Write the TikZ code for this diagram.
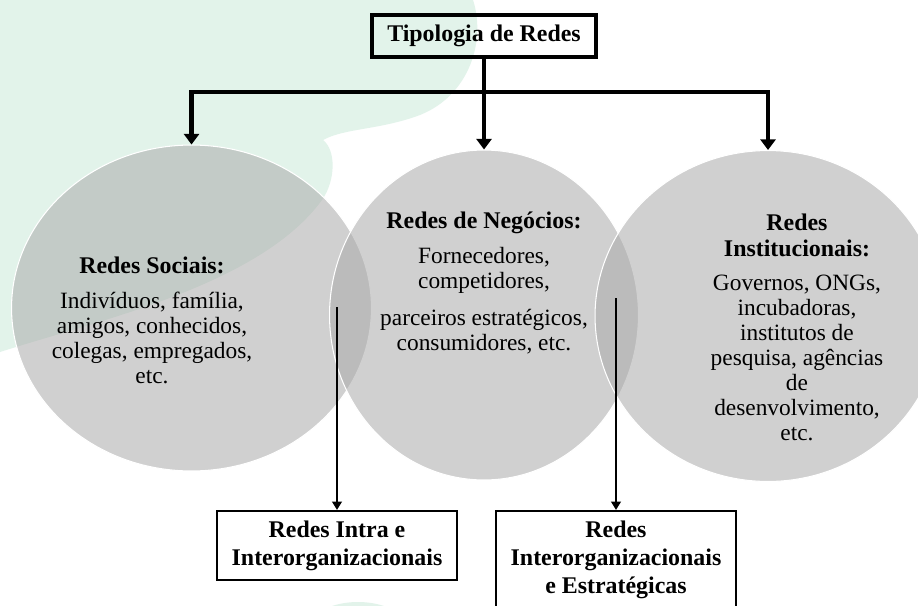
\documentclass[tikz,border=0pt]{standalone}
\usepackage{fontspec}
\setmainfont{Liberation Serif}
\usetikzlibrary{shapes.geometric,arrows.meta}
\definecolor{mint}{RGB}{226,243,234}

\begin{document}
\begin{tikzpicture}[x=0.02cm,y=0.02cm]
\tikzstyle{circ}=[ellipse,draw=white,line width=0.6pt,fill=black!33,fill opacity=0.55,inner sep=0pt]
\tikzstyle{hd}=[font=\fontsize{13.6}{14.8}\selectfont\bfseries,align=center,inner sep=0pt]
\tikzstyle{txt}=[font=\fontsize{13.3}{14.2}\selectfont,align=center,inner sep=0pt]
\tikzstyle{bx}=[draw=black,line width=1.2pt,align=center,font=\fontsize{13.6}{15.9}\selectfont\bfseries,minimum width=4.8cm]
\tikzstyle{big}=[line width=2.4pt,-{Triangle[width=8.5pt,length=6pt]}]
\tikzstyle{small}=[line width=1.4pt,-{Triangle[width=5.5pt,length=4.8pt]}]

\useasboundingbox (0,0) rectangle (918,-605);
\fill[white] (0,0) rectangle (918,-605);
% green backdrop
\fill[mint] (0,0) -- (473,0) .. controls (486,-40) and (470,-95) .. (420,-115)
  .. controls (380,-130) and (345,-128) .. (323,-140)
  .. controls (336,-150) and (336,-180) .. (322,-200)
  .. controls (260,-285) and (100,-320) .. (0,-352) -- cycle;
\fill[mint] (358,-650) ellipse [x radius=65, y radius=48];

% circles
\node[circ,minimum width=7.2cm,minimum height=6.52cm] (S) at (191.5,-308) {};
\node[circ,minimum width=6.18cm,minimum height=6.6cm] (N) at (484,-315) {};
\node[circ,minimum width=6.92cm,minimum height=6.62cm] (I) at (768,-316) {};

% title
\node[draw=black,line width=2.3pt,font=\fontsize{13.6}{15}\selectfont\bfseries,
      minimum width=4.48cm,minimum height=0.84cm] (T) at (484,-36) {Tipologia de Redes};

% texts in the circles
\node[hd]  (Sh) at (152,-265) {Redes Sociais:};
\node[txt] (Sb) at (152,-338) {Indivíduos, família,\\ amigos, conhecidos,\\ colegas, empregados,\\ etc.};
\node[hd]  (Nh) at (484,-223) {Redes de Negócios:};
\node[txt] (Nb) at (484,-301) {Fornecedores,\\ competidores,\\[7pt] parceiros estratégicos,\\ consumidores, etc.};
\node[hd]  (Ih) at (797,-235) {Redes\\ Institucionais:};
\node[txt] (Ib) at (797,-358) {Governos, ONGs,\\ incubadoras,\\ institutos de\\ pesquisa, agências\\ de\\ desenvolvimento,\\ etc.};

% lower boxes
\node[bx,minimum height=1.38cm] (A) at (337,-545.5) {Redes Intra e\\ Interorganizacionais};
\node[bx,minimum height=1.96cm] (B) at (616,-560) {Redes\\ Interorganizacionais\\ e Estratégicas};

% connectors
\coordinate (c1) at (337,-307);
\coordinate (c2) at (616,-298);
\draw[big] (T.south) -- (N.north);
\draw[big] (T.south) -- ++(0,-33) -| (S.north);
\draw[big] (T.south) -- ++(0,-33) -| (I.north);
\draw[small] (c1) -- (A.north);
\draw[small] (c2) -- (B.north);
\end{tikzpicture}
\end{document}
